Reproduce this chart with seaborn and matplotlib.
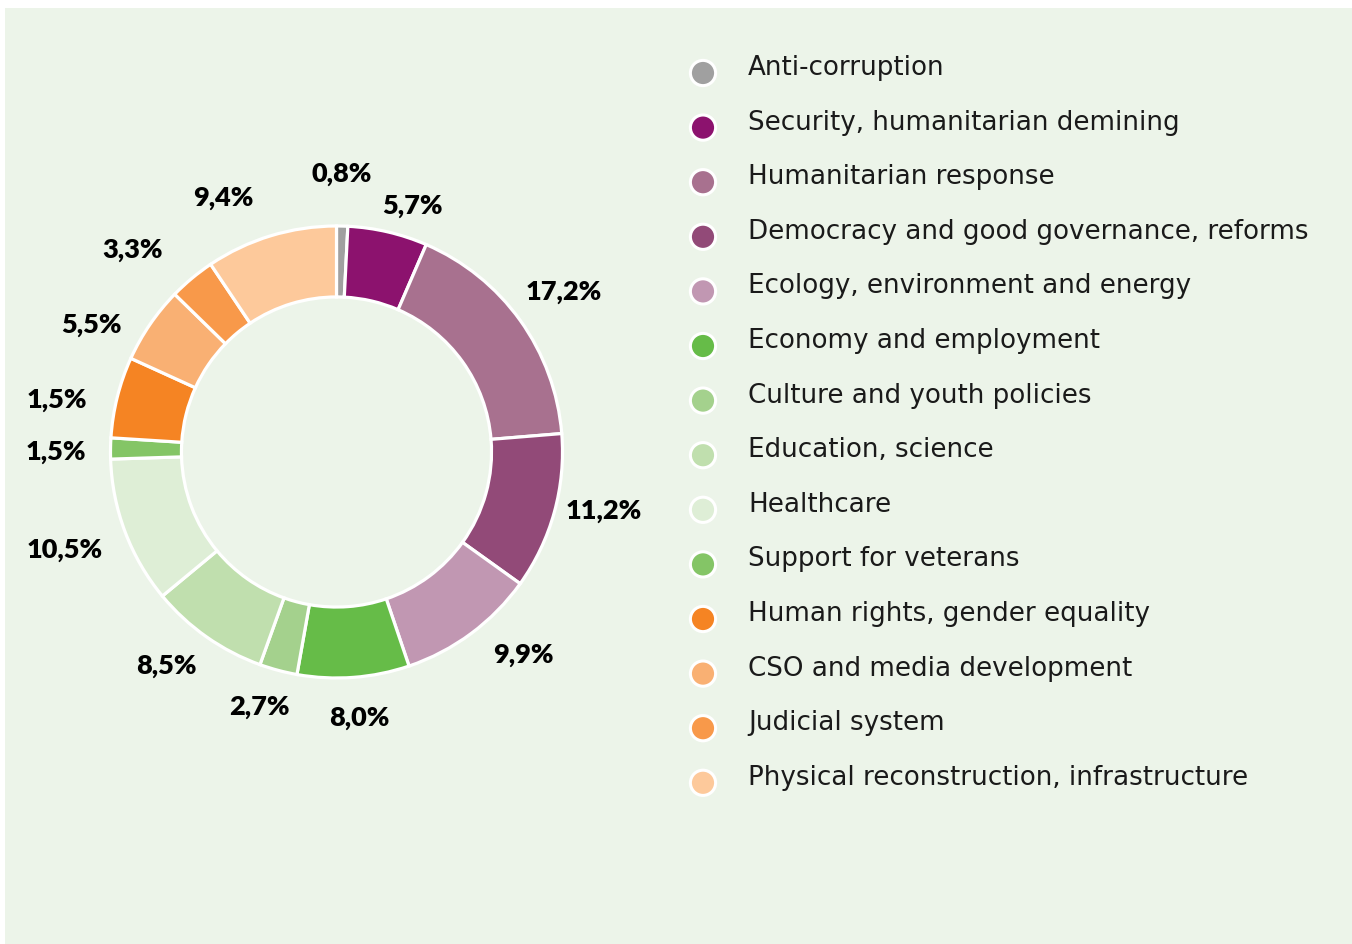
import numpy as np
import matplotlib
matplotlib.use("Agg")
import matplotlib.pyplot as plt
from matplotlib.patches import Rectangle
import seaborn as sns

# ---------------- data ----------------
categories = [
    "Anti-corruption",
    "Security, humanitarian demining",
    "Humanitarian response",
    "Democracy and good governance, reforms",
    "Ecology, environment and energy",
    "Economy and employment",
    "Culture and youth policies",
    "Education, science",
    "Healthcare",
    "Support for veterans",
    "Human rights, gender equality",
    "CSO and media development",
    "Judicial system",
    "Physical reconstruction, infrastructure",
]
# slice sizes (percent)
values = [0.8, 5.7, 17.2, 11.2, 9.9, 8.0, 2.7, 8.5, 10.5, 1.5, 5.8, 5.5, 3.3, 9.4]
# label texts as printed on the chart
pct_labels = ["0,8%", "5,7%", "17,2%", "11,2%", "9,9%", "8,0%", "2,7%",
              "8,5%", "10,5%", "1,5%", "1,5%", "5,5%", "3,3%", "9,4%"]
hex_colors = ["#a0a0a0", "#8c126e", "#a8718f", "#924a78", "#c197b2", "#66bc48",
              "#a4d18d", "#c0dfae", "#deeed6", "#84c566", "#f58423", "#f9b073",
              "#f8994a", "#fdc99b"]

# label placement tweaks (angle nudge in degrees clockwise, radius factor)
label_nudge = [-0.4, 4, 0.4, -3, -6, -0.6, 1.8, 3.3, 0.9, -0.9, -3.5, -7, -5.5, -7]
label_rad = [1.23, 1.14, 1.23, 1.21, 1.22, 1.18, 1.18, 1.21, 1.28, 1.24, 1.26, 1.22, 1.27, 1.23]

# ---------------- style ----------------
sns.set_theme(style="white")
plt.rcParams["font.family"] = ["Lato", "DejaVu Sans"]
palette = sns.color_palette(hex_colors)

W, H = 1352, 944
fig = plt.figure(figsize=(W / 100, H / 100), dpi=100)
fig.patch.set_facecolor("white")
bg = "#ecf4e9"
fig.add_artist(Rectangle((5 / W, 0), 1 - 5 / W, (H - 8) / H, transform=fig.transFigure,
                         facecolor=bg, edgecolor="none", zorder=0))

# ---------------- donut ----------------
cx, cy = 336.5, H - 452
half = 300
ax = fig.add_axes([(cx - half) / W, (cy - half) / H, 2 * half / W, 2 * half / H])
ax.patch.set_alpha(0)

ax.pie(values, colors=palette, startangle=90, counterclock=False, radius=1.0,
       wedgeprops=dict(width=0.314, edgecolor="white", linewidth=2.3))
lim = half / 226.0
ax.set_xlim(-lim, lim)
ax.set_ylim(-lim, lim)
ax.set_aspect("equal")
ax.axis("off")

total = float(sum(values))
cum = np.cumsum([0] + values[:-1])
for i, (v, c) in enumerate(zip(values, cum)):
    mid_cw = (c + v / 2) / total * 360 + label_nudge[i]
    theta = np.deg2rad(90 - mid_cw)
    r = label_rad[i]
    ax.text(r * np.cos(theta), r * np.sin(theta), pct_labels[i], ha="center", va="center",
            fontsize=19.5, fontweight="heavy", color="black",
            family=["Lato", "DejaVu Sans"])

# ---------------- legend ----------------
lax = fig.add_axes([0, 0, 1, 1])
lax.set_xlim(0, W)
lax.set_ylim(H, 0)
lax.axis("off")
lax.patch.set_alpha(0)
y0, dy = 73, 54.6
ys = [y0 + i * dy for i in range(len(categories))]
lax.scatter([703] * len(categories), ys, s=330, c=palette, edgecolors="white", linewidths=2.2, zorder=3)
for y, name in zip(ys, categories):
    lax.text(748, y + 2, name, ha="left", va="baseline", fontsize=18.8, color="#1a1a1a",
             family=["DejaVu Sans"])

fig.savefig("out.png", dpi=100, facecolor=fig.get_facecolor())
